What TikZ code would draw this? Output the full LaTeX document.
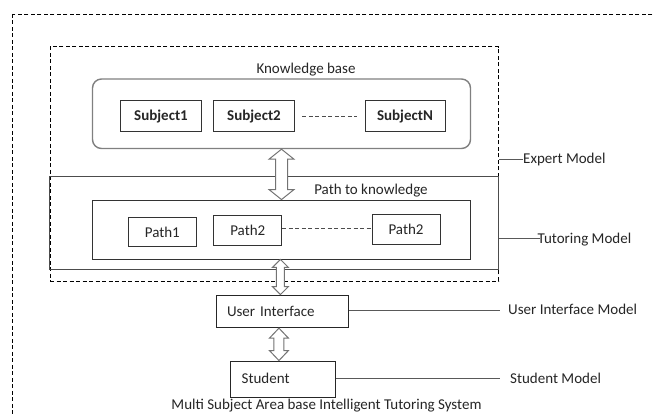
\documentclass[tikz,border=0pt]{standalone}
\usepackage{fontspec}
\setmainfont{Carlito}
\usetikzlibrary{calc}
\newcommand\blockarr[5]{%
  \draw[barrow] let \p1=(#1), \p2=(#2) in
    (\x1,\y1) -- (\x1+#3,\y1-#5) -- (\x1+#4,\y1-#5) -- (\x1+#4,\y2+#5) -- (\x1+#3,\y2+#5)
    -- (\x1,\y2) -- (\x1-#3,\y2+#5) -- (\x1-#4,\y2+#5) -- (\x1-#4,\y1-#5) -- (\x1-#3,\y1-#5) -- cycle;}
\begin{document}
\begin{tikzpicture}[x=1pt,y=-1pt,
  every node/.style={font=\fontsize{15pt}{18pt}\selectfont, text=black!85},
  plain/.style={inner sep=0pt},
  sbox/.style={draw=black!80, line width=0.9pt, inner sep=0pt, font=\fontsize{15pt}{18pt}\selectfont\bfseries},
  pbox/.style={draw=black!80, line width=0.9pt, inner sep=0pt},
  lbox/.style={draw=black!85, line width=0.9pt, inner ysep=0pt, inner xsep=11pt, align=left},
  frame/.style={draw=black!80, line width=0.9pt, inner sep=0pt},
  dframe/.style={draw=black, line width=0.8pt, dash pattern=on 4pt off 2.5pt, inner sep=0pt},
  barrow/.style={draw=black!55, fill=white, line width=1pt, line join=miter},
  tie/.style={draw=black!65, line width=1pt},
  dots/.style={draw=black!70, line width=0.9pt, dash pattern=on 4pt off 2.5pt}]
\useasboundingbox (0,0) rectangle (654,414);
\fill[white] (0,0) rectangle (654,414);
% outer dashed frame (runs off the page)
\draw[dframe] (12.7,14) rectangle (680,440);
% expert model dashed frame
\node[dframe, minimum width=448.5pt, minimum height=234.3pt] (ex) at (274.25,163.85) {};
% tutoring model frame
\node[frame, draw=black!70, minimum width=448.4pt, minimum height=92.3pt, line width=1pt] (tm) at (273.8,223.15) {};
% knowledge base
\node[plain] (kbt) at (306,69.5) {Knowledge base};
\node[draw=black!50, line width=1.4pt, rounded corners=9pt, minimum width=378pt, minimum height=69.5pt, inner sep=0pt] (kb) at (281.5,113.75) {};
\node[sbox, minimum width=80.5pt, minimum height=31pt] (s1) at (161,116.2) {Subject1};
\node[sbox, minimum width=80.5pt, minimum height=31pt] (s2) at (254,116.2) {Subject2};
\node[sbox, minimum width=80pt, minimum height=31pt] (sN) at (405,116.2) {SubjectN};
\draw[dots] ([xshift=7.7pt]s2.east) -- ([xshift=-7.5pt]sN.west);
% path to knowledge
\node[plain] (pkt) at (371,190.5) {Path to knowledge};
\node[frame, minimum width=377.5pt, minimum height=59pt] (pk) at (281.25,229.5) {};
\node[pbox, minimum width=68pt, minimum height=29.7pt] (p1) at (162.3,231.85) {Path1};
\node[pbox, minimum width=68pt, minimum height=30pt] (p2) at (247.75,230.7) {Path2};
\node[pbox, minimum width=68pt, minimum height=30pt] (p3) at (406,229.3) {Path2};
\draw[dots] ([yshift=2pt]p2.east) -- ([yshift=2pt]p2.east -| p3.west);
% user interface and student
\node[lbox, text width=110.3pt, minimum height=32.7pt] (ui) at (282.15,311.35) {User Interface};
\node[lbox, text width=83pt, minimum height=36.7pt] (st) at (283.2,379.35) {\raisebox{3pt}{Student}};
% block arrows
\blockarr{kb.south}{pk.north}{12.5pt}{6pt}{10pt}
\blockarr{[xshift=-0.8pt]pk.south}{[xshift=-1.6pt]ui.north}{8pt}{4pt}{8pt}
\blockarr{[xshift=-3.2pt]ui.south}{[xshift=-4.2pt]st.north}{9.5pt}{5pt}{10pt}
% model labels
\node[plain, anchor=west] (em) at (523,159.3) {Expert Model};
\draw[tie] (ex.east |- em.west) -- (em.west);
\node[plain, anchor=west] (tml) at (537.5,240) {Tutoring Model};
\draw[tie] (tm.east |- 0,238.7) -- (539.6,238.7) coordinate (tmend);
\node[plain, anchor=west] (uim) at (508,309.5) {User Interface Model};
\draw[tie] (ui.east |- 0,310.7) -- (500,310.7) coordinate (uiend);
\node[plain, anchor=west] (stm) at (510,378.5) {Student Model};
\draw[tie] (st.east |- 0,379) -- (500,379) coordinate (stend);
% caption
\node[plain] (cap) at (326.5,406) {Multi Subject Area base Intelligent Tutoring System};
\end{tikzpicture}
\end{document}
